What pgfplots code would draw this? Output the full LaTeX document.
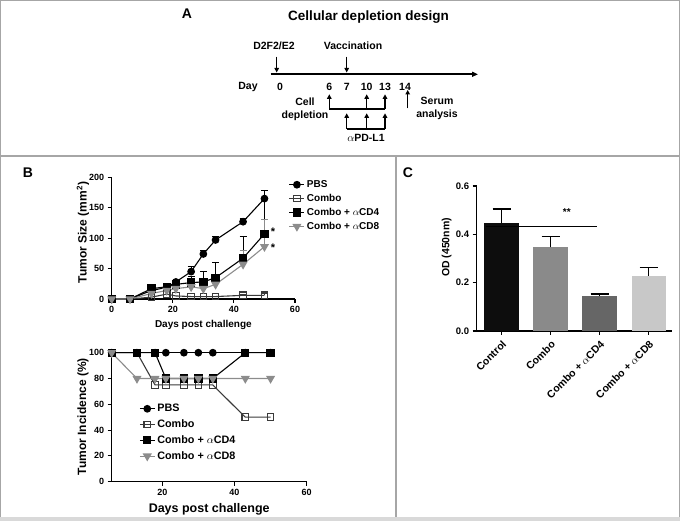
\documentclass[border=0pt]{standalone}
\usepackage{pgfplots}
\pgfplotsset{compat=1.18}
\usepackage{fontspec}
\setmainfont{Liberation Sans}
\usetikzlibrary{arrows.meta}
\definecolor{framegray}{HTML}{A6A6A6}
\definecolor{stripgray}{HTML}{D9D9D9}
\definecolor{cdgray}{HTML}{8C8C8C}
\definecolor{combogray}{HTML}{3A3A3A}
\definecolor{barA}{HTML}{0D0D0D}
\definecolor{barB}{HTML}{8A8A8A}
\definecolor{barC}{HTML}{666666}
\definecolor{barD}{HTML}{C8C8C8}
\newcommand{\fs}[1]{\fontsize{#1}{#1}\selectfont\bfseries}
\pgfplotsset{
  prism/.style={
    scale only axis, clip=false,
    axis lines*=left,
    axis line style={line width=1.1pt, black},
    tick align=outside,
    major tick length=4pt,
    tick style={line width=1.1pt, black},
    /pgf/number format/assume math mode=true,
    ticklabel style={font=\fs{9}},
    label style={font=\fs{12}},
    legend cell align=left,
    legend image code/.code={\draw[mark repeat=2,mark phase=2,##1] plot coordinates {(0pt,0pt) (7.5pt,0pt) (15pt,0pt)};},
  },
  lpbs/.style={black, line width=1.1pt, mark=*, mark size=3.3pt},
  lcombo/.style={combogray, line width=1.1pt, mark=square, mark size=3.3pt, mark options={line width=1.1pt}},
  lcd4/.style={black, line width=1.1pt, mark=square*, mark size=3.6pt},
  lcd8/.style={cdgray, line width=1.1pt, mark=triangle*, mark size=4.2pt, mark options={rotate=180}},
  ebar/.style={error bars/.cd, y dir=plus, y explicit, error mark=|, error bar style={line width=1.1pt}, error mark options={line width=1.1pt, mark size=3.5pt}},
  cbar/.style={ybar, bar width=34.3pt, bar shift=0pt, fill=#1, draw=none, error bars/.cd, y dir=plus, y explicit, error mark=|, error bar style={black, line width=1.4pt}, error mark options={black, line width=1.4pt, mark size=9pt}},
}
\begin{document}
\begin{tikzpicture}[x=1pt,y=1pt]
\useasboundingbox (0,0) rectangle (680,521);
% frame
\fill[stripgray] (0,0) rectangle (680,4);
\draw[framegray, line width=1.3pt] (0.65,4) -- (0.65,520.35) -- (679.35,520.35) -- (679.35,4);
\draw[framegray, line width=1.3pt] (0,365) -- (680,365);
\draw[framegray, line width=1.3pt] (396,4) -- (396,365);

% ---------------- Panel A ----------------
\node[font=\fs{14}] at (187,507) {A};
\node[font=\fs{13.5}] at (368.5,504) {Cellular depletion design};
\node[font=\fs{10.5}] at (274,475.3) {D2F2/E2};
\node[font=\fs{10.5}] at (353,475.3) {Vaccination};
\tikzset{arr/.style={line width=1.2pt, -{Triangle[length=4.5pt,width=4.5pt]}}}
\draw[arr] (276.7,464.3) -- (276.7,448.5);
\draw[arr] (346.7,464.3) -- (346.7,448.5);
\draw[line width=1.9pt, -{Triangle[length=6pt,width=5pt]}] (270.7,446.7) -- (478,446.7);
\foreach \xx/\tt in {248/Day,280/0,329.3/6,346.7/7,366.7/10,385/13,405/14}
  \node[font=\fs{10.5}] at (\xx,433.7) {\tt};
\node[font=\fs{10.5}] at (305,419.3) {Cell};
\node[font=\fs{10.5}] at (305,405.5) {depletion};
\draw[line width=1.2pt] (329.3,412) -- (385,412);
\foreach \xx in {329.3,366.7,385} \draw[arr] (\xx,412) -- (\xx,426.7);
\draw[line width=1.2pt] (346.7,392) -- (385,392);
\foreach \xx in {346.7,366.7,385} \draw[arr] (\xx,392) -- (\xx,407.7);
\node[font=\fs{10.5}] at (366,382.7) {$\alpha$PD-L1};
\draw[arr] (407.7,412.7) -- (407.7,431);
\node[font=\fs{10.5}] at (437,420) {Serum};
\node[font=\fs{10.5}] at (437,406) {analysis};

% ---------------- Panel B ----------------
\node[font=\fs{14}] at (28,348) {B};
\begin{axis}[prism, at={(111.7pt,222pt)}, anchor=south west, width=183.3pt, height=121.7pt,
  xmin=0, xmax=60, ymin=0, ymax=200, xtick={0,20,40,60}, ytick={0,50,100,150,200},
  xlabel={Days post challenge}, ylabel={Tumor Size (mm\textsuperscript{2})},
  xlabel style={font=\fs{10}, at={(axis description cs:0.5,-0.21)}, anchor=center},
  ylabel style={font=\fs{12}, at={(axis description cs:-0.157,0.546)}, anchor=center},
  legend style={at={(rel axis cs:0.96,1.0)}, anchor=north west, draw=none, fill=none,
    font=\fs{10}, row sep=1.2pt, inner sep=1pt}]
\addplot[lpbs, ebar] coordinates {(0,0) (6,0) (13,14) (18,19) (21,28) +- (0,2) (26,45) +- (0,8) (30,74) +- (0,5) (34,97) +- (0,5) (43,127) +- (0,5) (50,165) +- (0,14)};
\addplot[lcombo, ebar] coordinates {(0,0) (6,0) (13,3) (18,8) (21,5) (26,4) (30,4) (34,4) (43,6) +- (0,2) (50,6) +- (0,3)};
\addplot[lcd4, ebar] coordinates {(0,0) (6,0) (13,17) (18,20) (21,24) +- (0,5) (26,27) +- (0,10) (30,28) +- (0,17) (34,35) +- (0,25) (43,67) +- (0,36) (50,107) +- (0,58)};
\addplot[lcd8, ebar] coordinates {(0,0) (6,0) (13,9) (18,14) (21,17) (26,20) (30,17) (34,24) +- (0,3) (43,57) +- (0,22) (50,86) +- (0,44)};
\legend{PBS, Combo, Combo + $\alpha$CD4, Combo + $\alpha$CD8}
\node[font=\fs{11}] at (axis cs:52.8,110) {*};
\node[font=\fs{11}] at (axis cs:52.8,85) {*};
\end{axis}

\begin{axis}[prism, at={(111.7pt,39.3pt)}, anchor=south west, width=195pt, height=129pt,
  xmin=6, xmax=60, ymin=0, ymax=100, xtick={20,40,60}, ytick={0,20,40,60,80,100},
  xlabel={Days post challenge}, ylabel={Tumor Incidence (\%)},
  xlabel style={font=\fs{12.5}, at={(axis description cs:0.5,-0.215)}, anchor=center},
  ylabel style={font=\fs{12}, at={(axis description cs:-0.147,0.504)}, anchor=center},
  legend style={at={(rel axis cs:0.135,0.625)}, anchor=north west, draw=none, fill=none,
    font=\fs{10.8}, row sep=2.5pt, inner sep=1pt}]
\addplot[lpbs] coordinates {(6,100) (13,100) (18,100) (21,100) (26,100) (30,100) (34,100) (43,100) (50,100)};
\addplot[lcombo] coordinates {(6,100) (13,100) (18,75) (21,75) (26,75) (30,75) (34,75) (43,50) (50,50)};
\addplot[lcd4] coordinates {(6,100) (13,100) (18,100) (21,80) (26,80) (30,80) (34,80) (43,100) (50,100)};
\addplot[lcd8] coordinates {(6,100) (13,80) (18,80) (21,80) (26,80) (30,80) (34,80) (43,80) (50,80)};
\legend{PBS, Combo, Combo + $\alpha$CD4, Combo + $\alpha$CD8}
\end{axis}

% ---------------- Panel C ----------------
\node[font=\fs{14}] at (408,348) {C};
\begin{axis}[prism, at={(476.7pt,190pt)}, anchor=south west, width=195pt, height=145pt,
  xmin=-0.506, xmax=3.47, ymin=0, ymax=0.6, xtick={0,1,2,3},
  xticklabels={Control, Combo, Combo + $\alpha$CD4, Combo + $\alpha$CD8},
  xticklabel style={rotate=45, anchor=north east, font=\fs{10.5}},
  ytick={0,0.2,0.4,0.6},
  yticklabel style={font=\fs{9.5}, /pgf/number format/.cd, fixed, fixed zerofill, precision=1},
  ylabel={OD (450nm)},
  ylabel style={font=\fs{10.5}, at={(axis description cs:-0.154,0.576)}, anchor=center}]
\addplot[cbar=barA] coordinates {(0,0.446) +- (0,0.058)};
\addplot[cbar=barB] coordinates {(1,0.346) +- (0,0.046)};
\addplot[cbar=barC] coordinates {(2,0.145) +- (0,0.008)};
\addplot[cbar=barD] coordinates {(3,0.229) +- (0,0.033)};
\addplot[black, line width=1.4pt, no marks] coordinates {(-0.316,0.432) (1.943,0.432)};
\node[font=\fs{10}] at (axis cs:1.33,0.492) {**};
\end{axis}
\end{tikzpicture}
\end{document}
